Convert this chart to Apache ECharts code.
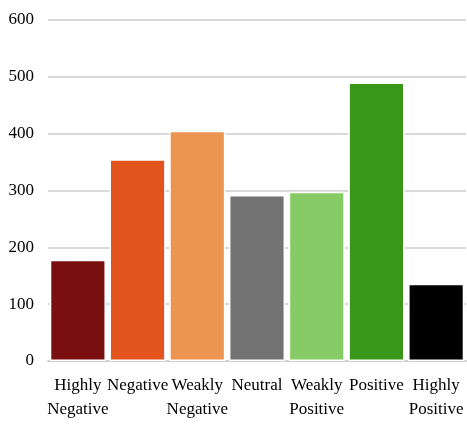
<!DOCTYPE html>
<html>
<head>
<meta charset="utf-8">
<script src="https://cdn.jsdelivr.net/npm/echarts@6/dist/echarts.min.js"></script>
<style>
  html, body { margin: 0; padding: 0; background: #fff; }
  #chart { width: 467px; height: 426px; }
</style>
</head>
<body>
<div id="chart"></div>
<script>
// Sentiment classes and their counts
const categories = ['Highly\nNegative', 'Negative', 'Weakly\nNegative', 'Neutral', 'Weakly\nPositive', 'Positive', 'Highly\nPositive'];
const counts = [178, 355, 405, 292, 298, 490, 136];
const barColors = ['#7a0f0f', '#e2531e', '#ec9551', '#737373', '#86cb65', '#3a9618', '#000000'];
const yTicks = { min: 0, max: 600, interval: 100 };

const chart = echarts.init(document.getElementById('chart'), null, { renderer: 'canvas' });
const font = 'Liberation Serif, Times New Roman, serif';

chart.setOption({
  animation: false,
  backgroundColor: '#ffffff',
  grid: { left: 48, right: 1, top: 20, bottom: 65 },
  xAxis: {
    type: 'category',
    data: categories,
    axisTick: { show: false },
    axisLine: { lineStyle: { color: '#d0d0d0', width: 2 } },
    axisLabel: {
      interval: 0,
      color: '#000',
      fontFamily: font,
      fontSize: 17,
      lineHeight: 24,
      margin: 13
    }
  },
  yAxis: {
    type: 'value',
    min: yTicks.min,
    max: yTicks.max,
    interval: yTicks.interval,
    axisLine: { show: false },
    axisTick: { show: false },
    splitLine: { lineStyle: { color: '#d9d9d9', width: 2 } },
    axisLabel: {
      color: '#000',
      fontFamily: font,
      fontSize: 17,
      margin: 14
    }
  },
  series: [{
    type: 'bar',
    data: counts.map((v, i) => ({ value: v, itemStyle: { color: barColors[i] } })),
    barCategoryGap: '6%',
    itemStyle: { borderColor: '#ffffff', borderWidth: 1.5 }
  }]
});
</script>
</body>
</html>
